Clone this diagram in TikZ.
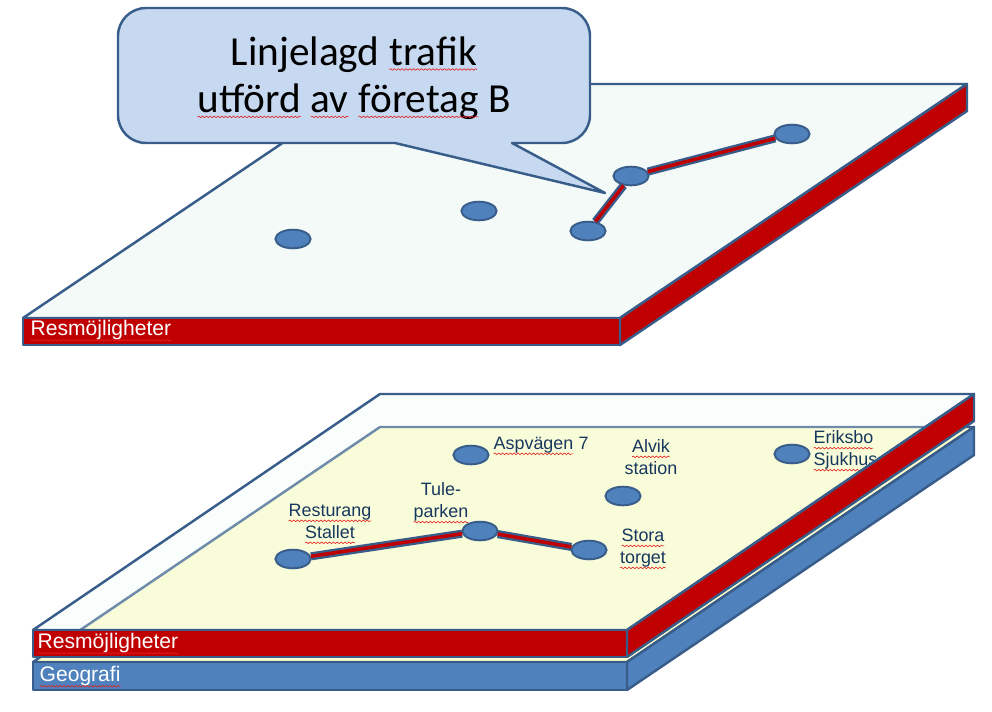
\documentclass[tikz,border=0pt]{standalone}
\usepackage{fontspec}
\usetikzlibrary{shapes.geometric,positioning,decorations.pathmorphing}
\newfontfamily\arialfont{Liberation Sans}
\newfontfamily\calibrifont{Carlito}
\definecolor{edgeblue}{RGB}{56,93,138}
\definecolor{nodeblue}{RGB}{79,129,189}
\definecolor{slabred}{RGB}{192,0,0}
\definecolor{bubblefill}{RGB}{198,217,241}
\definecolor{mintface}{RGB}{244,250,247}
\definecolor{glassmint}{RGB}{235,247,241}
\definecolor{geoyellow}{RGB}{255,255,206}
\definecolor{labelnavy}{RGB}{23,55,94}
\definecolor{spellred}{RGB}{230,30,30}
\newcommand{\spell}[1]{\tikz[baseline=(w.base)]{\node[inner sep=0pt,outer sep=0pt,anchor=base,align=left] (w) {#1};
  \draw[spellred,line width=0.35pt,decorate,decoration={snake,amplitude=0.45pt,segment length=2.2pt}]
    ([yshift=-2.5pt]w.base west) -- ([yshift=-2.5pt]w.base east);}}
\tikzset{
  face/.style={draw=edgeblue,line width=1.4pt,line join=round},
  topface/.style={face,fill=mintface},
  redface/.style={face,fill=slabred},
  blueface/.style={face,fill=nodeblue},
  geoface/.style={face,fill=geoyellow},
  glassface/.style={face,fill=glassmint,fill opacity=0.3},
  stop/.style={ellipse,draw=edgeblue,fill=nodeblue,line width=1.1pt,
               minimum width=20pt,minimum height=10.6pt,inner sep=0pt},
  link/.style={draw=edgeblue,line width=1.3pt,double=slabred,double distance=2pt},
  bubble/.style={draw=edgeblue,line width=1.4pt,fill=bubblefill,line join=round},
  slablabel/.style={anchor=west,text=white,inner sep=0pt,
                    font=\arialfont\fontsize{12}{14}\selectfont},
  place/.style={text=labelnavy,inner sep=0pt,align=center,
                font=\arialfont\fontsize{10.2}{12.5}\selectfont},
}
\begin{document}
\begin{tikzpicture}[x=0.02cm,y=-0.02cm]
  \useasboundingbox (0,0) rectangle (992,711);
  % upper slab
  \draw[topface] (23,318) -- (620,318) -- (967,84) -- (370,84) -- cycle;
  \draw[redface] (23,318) rectangle (620,345);
  \draw[redface] (620,318) -- (967,84) -- (967,111) -- (620,345) -- cycle;
  \node[slablabel] (resm1) at (30,331) {\spell{Resmöjligheter}};
  \node[stop] (ta) at (293,239) {};
  \node[stop] (tb) at (479,211) {};
  \node[stop] (tc) at (588,231) {};
  \node[stop] (td) at (631,176) {};
  \node[stop] (te) at (792,134) {};
  \draw[link] (tc) -- (td);
  \draw[link] (td) -- (te);
  \draw[bubble] (512,143) -- (605,193) -- (395,143) -- (146,143)
    arc[start angle=90,end angle=180,radius=28] -- (118,36)
    arc[start angle=180,end angle=270,radius=28] -- (562,8)
    arc[start angle=270,end angle=360,radius=28] -- (590,115)
    arc[start angle=0,end angle=90,radius=28] -- cycle;
  \node[align=center,inner sep=0pt,font=\calibrifont\fontsize{23.5}{27}\selectfont]
    (msg) at (354,78) {Linjelagd \spell{trafik}\\ \spell{utförd} \spell{av} \spell{företag} B};
  % lower slabs
  \draw[geoface] (33,662) -- (627,662) -- (974,427) -- (380,427) -- cycle;
  \draw[blueface] (33,662) rectangle (627,690);
  \draw[blueface] (627,662) -- (974,427) -- (974,455) -- (627,690) -- cycle;
  \node[slablabel] (geo) at (39,677) {\spell{Geografi}};
  \draw[glassface] (33,630) -- (627,630) -- (974,394) -- (380,394) -- cycle;
  \node[stop] (ga) at (471,455) {};
  \node[stop] (gb) at (623,496) {};
  \node[stop] (gc) at (792,454) {};
  \node[stop] (gd) at (293,559) {};
  \node[stop] (ge) at (480,531) {};
  \node[stop] (gf) at (589,550) {};
  \draw[link] (gd) -- (ge);
  \draw[link] (ge) -- (gf);
  \node[place] (asp) at (541,446) {\spell{Aspvägen} 7};
  \node[place] (alvik) at (651,457) {\spell{Alvik}\\station};
  \node[place,align=left,anchor=west] (eriks) at (813,451) {\spell{Eriksbo}\\\spell{Sjukhus}};
  \node[place] (rest) at (330,524) {\spell{Resturang}\\\spell{Stallet}};
  \node[place] (tule) at (441,503) {Tule-\\\spell{parken}};
  \node[place] (stora) at (643,549) {\spell{Stora}\\\spell{torget}};
  \draw[redface] (33,630) rectangle (627,657);
  \draw[redface] (627,630) -- (974,394) -- (974,421) -- (627,657) -- cycle;
  \node[slablabel] (resm2) at (37,644) {\spell{Resmöjligheter}};
\end{tikzpicture}
\end{document}
